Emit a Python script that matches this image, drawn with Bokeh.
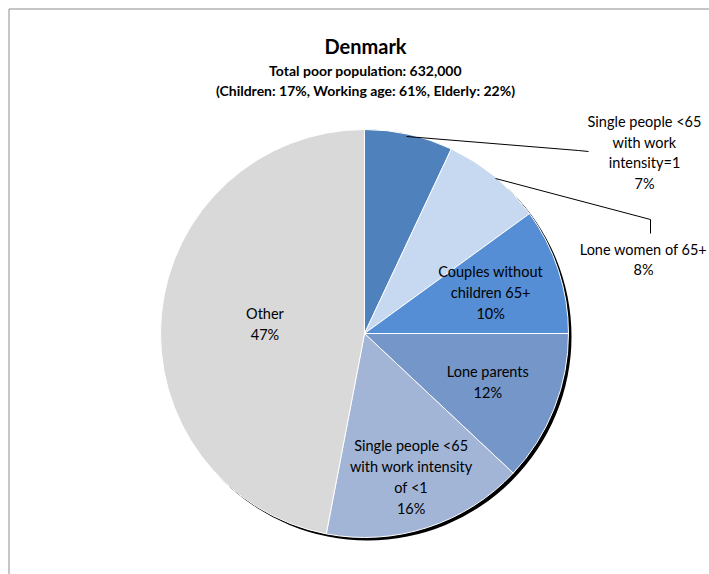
import math
from bokeh.plotting import figure
from bokeh.models import Range1d
from bokeh.core.properties import value
from bokeh.embed import file_html
from bokeh.resources import INLINE

# ---- data ----
categories = ["Single people <65 with work intensity=1", "Lone women of 65+",
              "Couples without children 65+", "Lone parents",
              "Single people <65 with work intensity of <1", "Other"]
shares = [7, 8, 10, 12, 16, 47]
label_lines = [
    ["Single people <65", "with work", "intensity=1", "7%"],
    ["Lone women of 65+", "8%"],
    ["Couples without", "children 65+", "10%"],
    ["Lone parents", "12%"],
    ["Single people <65", "with work intensity", "of <1", "16%"],
    ["Other", "47%"],
]
colors = ["#4F81BD", "#C6D9F0", "#558ED5", "#7596C8", "#A2B5D7", "#D9D9D9"]
title = "Denmark"
subtitle1 = "Total poor population: 632,000"
subtitle2 = "(Children: 17%, Working age: 61%, Elderly: 22%)"

# ---- layout ----
W, H = 709, 574
cx, cy, R = 364, 241, 204
FONT = "Lato"

p = figure(width=W, height=H, output_backend="svg", toolbar_location=None,
           x_range=Range1d(0, W), y_range=Range1d(0, H), min_border=0)
p.axis.visible = False
p.grid.visible = False
p.outline_line_color = None
p.background_fill_color = "white"

# chart border (left and top visible)
p.line([8.5, 8.5], [0, H - 8.5], line_color="#8C8C8C", line_width=1)
p.line([8.5, W], [H - 8.5, H - 8.5], line_color="#8C8C8C", line_width=1)

# titles
p.text([365], [529], text=[title], text_font=value(FONT), text_font_style="bold",
       text_font_size="20px", text_align="center", text_baseline="middle", text_color="black")
p.text([365], [504], text=[subtitle1], text_font=value(FONT), text_font_style="bold",
       text_font_size="14px", text_align="center", text_baseline="middle", text_color="black")
p.text([365], [484], text=[subtitle2], text_font=value(FONT), text_font_style="bold",
       text_font_size="14px", text_align="center", text_baseline="middle", text_color="black")

# shadow
p.circle([cx + 3], [cy - 3], radius=R, radius_units="screen", fill_color="black",
         line_color=None)

total = float(sum(shares))
starts, ends, mids = [], [], []
cum = 0.0
for s in shares:
    a0 = math.pi / 2 - 2 * math.pi * cum / total
    cum += s
    a1 = math.pi / 2 - 2 * math.pi * cum / total
    starts.append(a0)
    ends.append(a1)
    mids.append((a0 + a1) / 2)

p.wedge(x=[cx] * len(shares), y=[cy] * len(shares), radius=R, radius_units="screen",
        start_angle=starts, end_angle=ends, direction="clock",
        fill_color=colors, line_color="white", line_width=1)

# labels
LH = 20.8
inside_r = {2: 0.65, 3: 0.65, 4: 0.74, 5: 0.49}
outside_pos = {0: (644, 422), 1: (643, 315)}
for i, lines in enumerate(label_lines):
    if i in inside_r:
        lx = cx + R * inside_r[i] * math.cos(mids[i])
        ly = cy + R * inside_r[i] * math.sin(mids[i])
    else:
        lx, ly = outside_pos[i]
    n = len(lines)
    ys = [ly + (n - 1) / 2 * LH - k * LH for k in range(n)]
    p.text([lx] * n, ys, text=lines, text_font=value(FONT), text_font_size="14.5px",
           text_align="center", text_baseline="middle", text_color="black")

# leader lines
p.line([406, 578, 588], [438, 424, 423], line_color="black", line_width=1)
p.line([495, 650, 650], [396, 355, 341], line_color="black", line_width=1)

open("out.html", "w").write(file_html(p, INLINE))
